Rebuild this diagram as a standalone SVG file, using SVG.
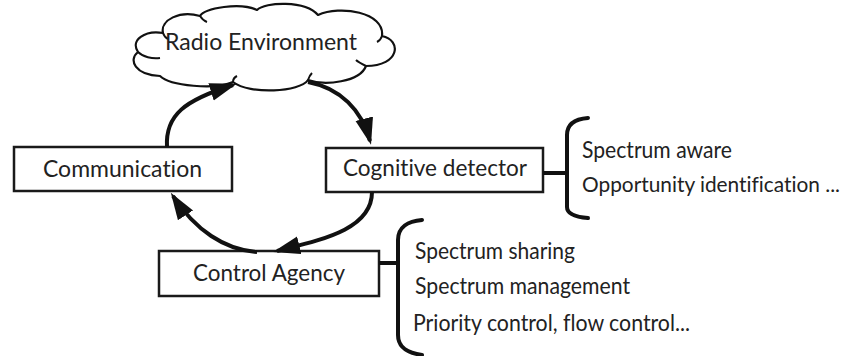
<svg xmlns="http://www.w3.org/2000/svg" width="855" height="356" viewBox="0 0 855 356">
<style>
.box{fill:#fff;stroke:#1a1a1a;stroke-width:2.5}
.lbl{font-family:Lato,"Liberation Sans",sans-serif;font-size:23px;fill:#222;font-variant-ligatures:none}
.sm{font-size:21px}
.conn{fill:none;stroke:#111;stroke-width:4}
.brace{fill:none;stroke:#111;stroke-width:4;stroke-linecap:round}
.cloud{fill:#fff;stroke:#111;stroke-width:2.2;stroke-linejoin:round}
.inner{fill:none;stroke:#111;stroke-width:2}
</style>
<defs>
<marker id="ah" markerUnits="userSpaceOnUse" markerWidth="30" markerHeight="20" refX="23" refY="9" orient="auto">
<path d="M0,0 L27,9 L0,18 Z" fill="#111"/>
</marker>
</defs>
<g id="radio-environment">
<path class="cloud" d="M163 33 C145 30,130 40,138 52 C128 60,135 75,160 76 C170 86,215 90,233 82 C250 95,300 92,308 80 C325 86,360 82,366 66 C400 66,402 40,382 36 C385 12,340 5,318 15 C305 0,265 2,257 10 C240 2,205 8,200 16 C180 10,160 20,163 33 Z"/>
<path class="inner" d="M138 52 C143 57,152 59,160 58 M233 82 C233 79,235 77,237 76 M308 80 C309 77,310 75,312 73 M366 66 C362 64,358 62,356 60 M382 36 C381 39,379 41,377 42 M200 16 C202 19,204 21,207 22 M163 33 C164 36,166 38,168 39"/>
<text class="lbl" x="165" y="50" textLength="192" lengthAdjust="spacingAndGlyphs">Radio Environment</text>
</g>
<g id="communication">
<rect class="box" x="14" y="147" width="218" height="44"/>
<text class="lbl" x="43" y="177" textLength="159" lengthAdjust="spacingAndGlyphs">Communication</text>
</g>
<g id="cognitive-detector">
<rect class="box" x="326" y="148" width="217" height="44"/>
<text class="lbl" x="343" y="176" textLength="184" lengthAdjust="spacingAndGlyphs">Cognitive detector</text>
</g>
<g id="control-agency">
<rect class="box" x="159" y="251" width="220" height="45"/>
<text class="lbl" x="193" y="281" textLength="152" lengthAdjust="spacingAndGlyphs">Control Agency</text>
</g>
<g id="detector-functions">
<path class="brace" d="M588 118 C575 119,567 124,567 135 L567 207 C567 214,575 217,588 218"/>
<text class="lbl" x="582" y="158" textLength="150" lengthAdjust="spacingAndGlyphs">Spectrum aware</text>
<text class="lbl sm" x="582" y="192" textLength="258" lengthAdjust="spacingAndGlyphs">Opportunity identification ...</text>
</g>
<g id="agency-functions">
<path class="brace" d="M422 220 C408 221,398 227,398 240 L398 335 C398 348,408 353,422 355"/>
<text class="lbl" x="415" y="259" textLength="160" lengthAdjust="spacingAndGlyphs">Spectrum sharing</text>
<text class="lbl" x="415" y="294" textLength="215" lengthAdjust="spacingAndGlyphs">Spectrum management</text>
<text class="lbl" x="413" y="331" textLength="277" lengthAdjust="spacingAndGlyphs">Priority control, flow control...</text>
</g>
<g id="connectors">
<path class="conn" d="M167 147 C165 115,185 100,233 85" marker-end="url(#ah)"/>
<path class="conn" d="M308 82 C340 88,362 110,370 141" marker-end="url(#ah)"/>
<path class="conn" d="M372 192 C372 230,320 240,277 251" marker-end="url(#ah)"/>
<path class="conn" d="M257 252 C225 250,195 230,173 196" marker-end="url(#ah)"/>
<path class="conn" d="M543 173 L567 173" stroke-width="3.5"/>
<path class="conn" d="M379 263 L398 263" stroke-width="3.5"/>
</g>
</svg>
